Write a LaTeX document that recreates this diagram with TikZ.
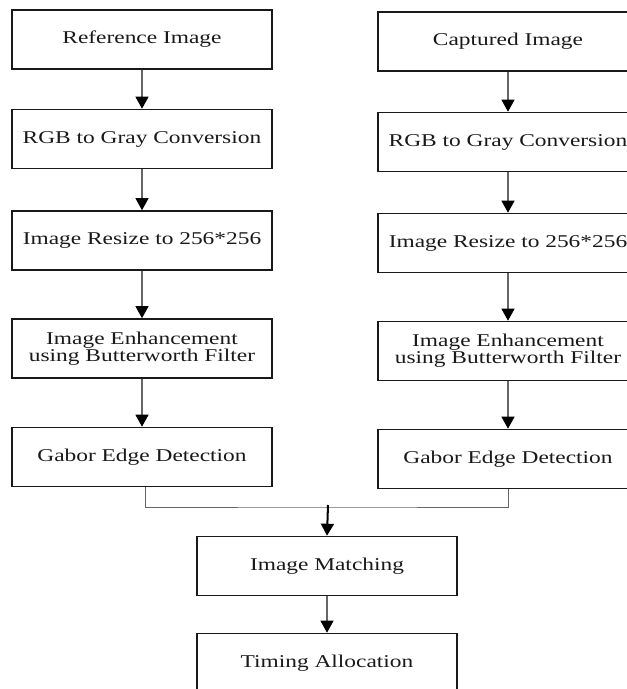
\documentclass[tikz,border=0pt]{standalone}
\usepackage{fontspec}
\setmainfont{Liberation Serif}[FakeStretch=1.3]
\usetikzlibrary{arrows.meta}
\begin{document}
\begin{tikzpicture}[x=1pt,y=-1pt,
  box/.style={draw=black!90, line width=1.6pt, minimum width=260pt, minimum height=59pt,
    inner sep=0pt, align=center, font=\fontsize{18}{17}\selectfont, text=black!90},
  conn/.style={draw=black!60, line width=1.2pt, -{Triangle[width=13pt,length=12pt,color=black]}},
  merge/.style={draw=black!60, line width=1pt},
  mainarrow/.style={draw=black, line width=2pt, -{Triangle[width=13pt,length=12pt,color=black]}}
]
\clip (0,0) rectangle (627,689);
% left column
\node[box] (l1) at (142,39.5) {Reference Image};
\node[box] (l2) at (142,139) {RGB to Gray Conversion};
\node[box] (l3) at (142,240.5) {Image Resize to 256*256};
\node[box] (l4) at (142,348.5) {Image Enhancement\\using Butterworth Filter};
\node[box] (l5) at (142,457) {Gabor Edge Detection};
% right column
\node[box] (r1) at (508,41.5) {Captured Image};
\node[box] (r2) at (508,142) {RGB to Gray Conversion};
\node[box] (r3) at (508,243) {Image Resize to 256*256};
\node[box] (r4) at (508,351) {Image Enhancement\\using Butterworth Filter};
\node[box] (r5) at (508,459) {Gabor Edge Detection};
% bottom
\node[box] (mat) at (327,566) {Image Matching};
\node[box] (tim) at (327,663) {Timing Allocation};
% connectors
\draw[conn] (l1) -- (l2);
\draw[conn] (l2) -- (l3);
\draw[conn] (l3) -- (l4);
\draw[conn] (l4) -- (l5);
\draw[conn] (r1) -- (r2);
\draw[conn] (r2) -- (r3);
\draw[conn] (r3) -- (r4);
\draw[conn] (r4) -- (r5);
\coordinate (m) at (328,507);
\draw[merge] ([xshift=3pt]l5.south) |- (m) -| (r5.south);
\draw[mainarrow] ([yshift=2pt]m) -- (mat.north);
\draw[conn] (mat) -- (tim);
\end{tikzpicture}
\end{document}
